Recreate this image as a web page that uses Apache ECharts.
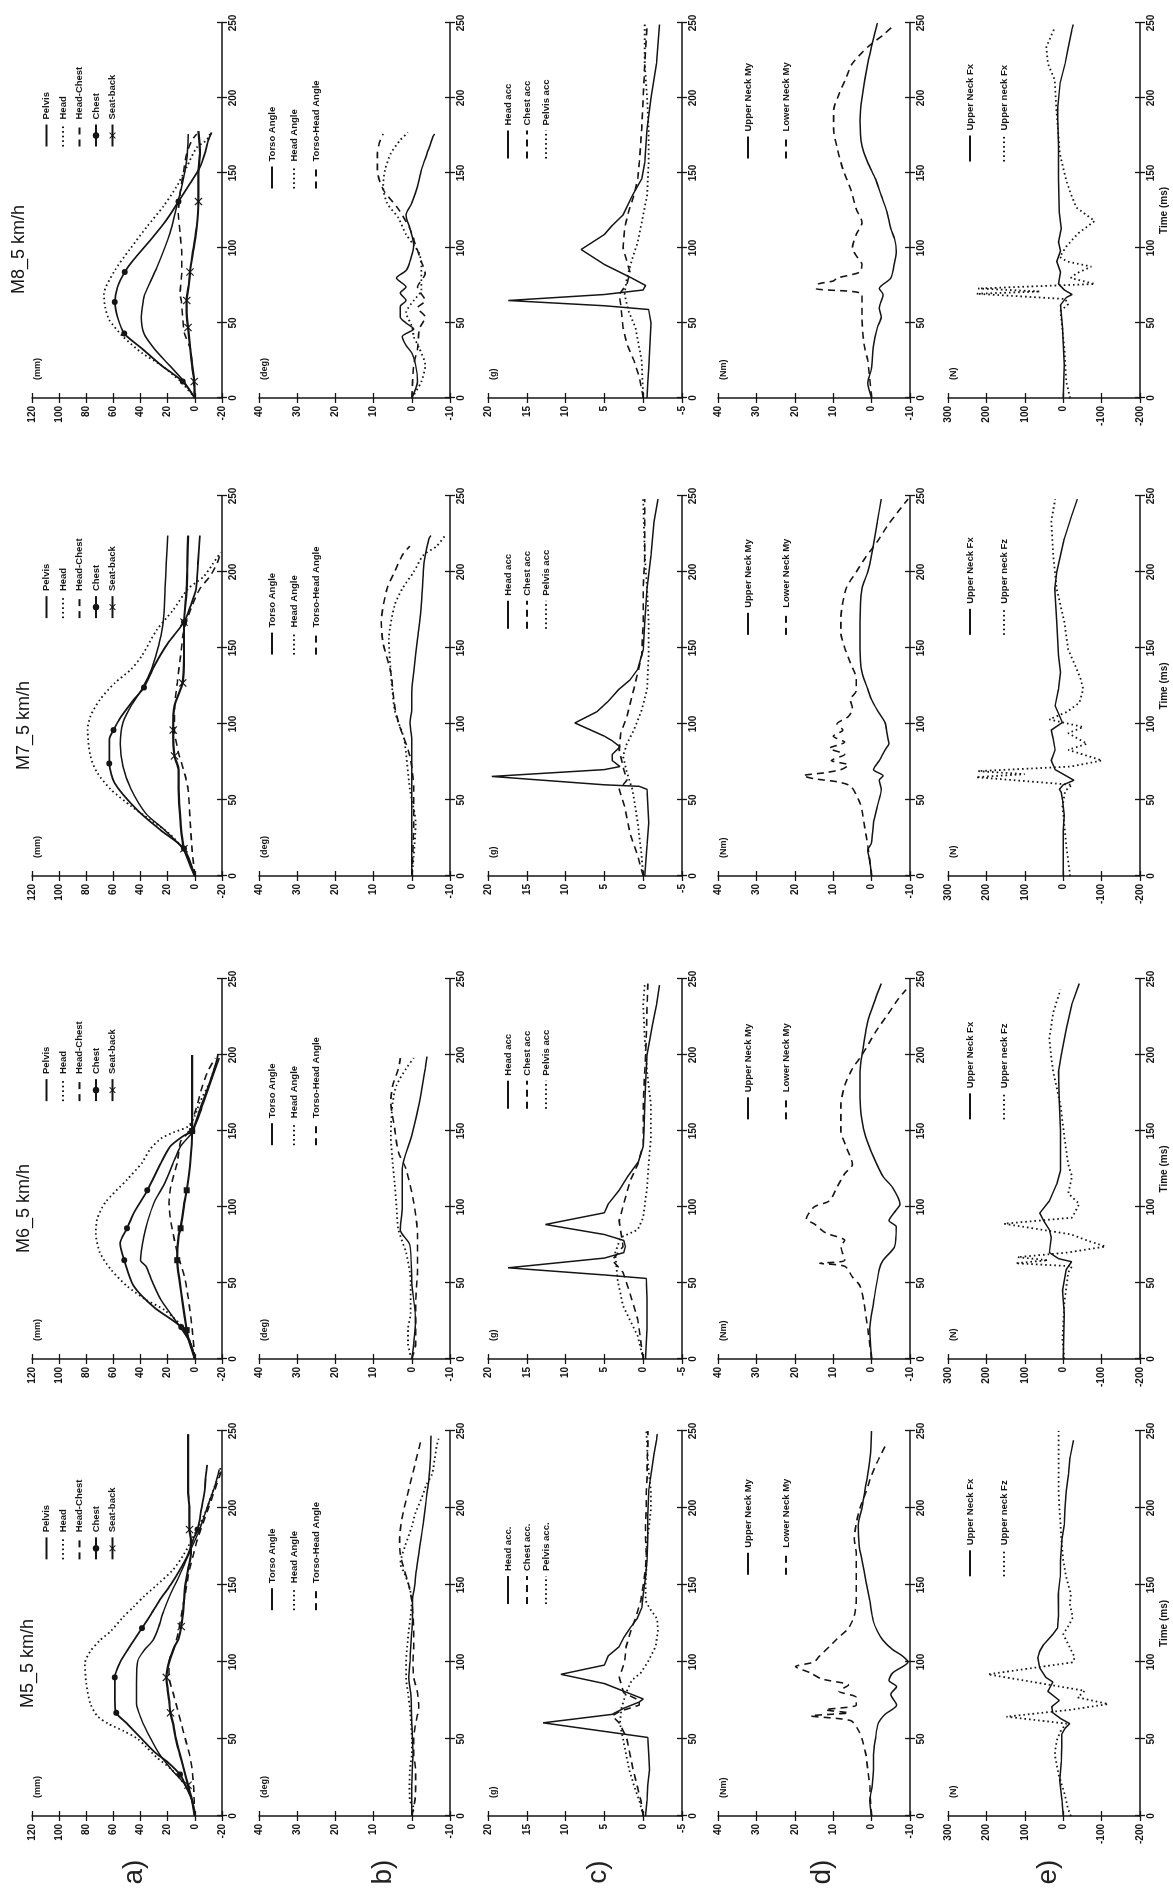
<!DOCTYPE html>
<html>
<head>
<meta charset="utf-8">
<title>Sled test responses M5-M8</title>
<script src="https://cdn.jsdelivr.net/npm/echarts/dist/echarts.min.js"></script>
<style>
  html, body { margin: 0; padding: 0; background: #fff; overflow: hidden; width: 1173px; height: 1894px; }
  /* the figure is landscape; the page shows it turned a quarter turn to the left */
  #rot { position: absolute; left: 0; top: 0; width: 1894px; height: 1173px;
         transform-origin: 0 0; transform: translate(0px, 1894px) rotate(-90deg); }
  #main { width: 1894px; height: 1173px; }
</style>
</head>
<body>
<div id="rot"><div id="main"></div></div>
<script>
// ---- axes ----
const blockTitles = ['M5_5 km/h', 'M6_5 km/h', 'M7_5 km/h', 'M8_5 km/h'];
const rowTags = ['a)', 'b)', 'c)', 'd)', 'e)'];
const valMin = [-20, -10, -5, -10, -200];
const valMax = [120, 40, 20, 40, 300];
const valStep = [20, 10, 5, 10, 100];
const valUnits = ['(mm)', '(deg)', '(g)', '(Nm)', '(N)'];

// ---- M5 ---- [time ms, value]
const m5_a_pelvis = [[0,0],[10,2],[20,7],[30,17],[40,26],[51,33],[62,39],[73,43],[86,43],[101,42],[108,37],[114,31],[122,27],[133,23],[144,18],[155,12],[165,7],[175,2],[185,-3],[195,-7],[205,-11],[215,-15],[225,-18]];
const m5_a_head = [[0,0],[10,2],[20,7],[30,17],[38,28],[45,36],[50,42],[55,52],[60,64],[65,72],[73,77],[86,80],[99,81],[107,77],[114,70],[120,62],[129,53],[136,45],[143,37],[150,28],[160,16],[170,8],[180,2],[190,-4],[200,-9],[210,-13],[220,-17],[226,-19]];
const m5_a_hc = [[0,0],[10,0.5],[20,1],[30,2],[40,4],[50,7],[60,10],[70,13],[80,16],[90,19],[100,19],[110,15],[120,12],[130,10],[140,8],[150,6],[160,4],[170,1],[180,-2],[190,-6],[200,-10],[210,-14],[220,-18],[225,-20]];
const m5_a_chest = [[0,0],[10,2],[20,7],[27,11],[35,20],[41,29],[50,39],[60,50],[67,58],[75,59],[90,59],[100,55],[110,48],[122,39],[130,33],[140,26],[150,18],[160,11],[170,5],[180,1],[186,-2],[200,-5],[210,-7],[220,-8],[228,-9]];
const m5_a_seat = [[0,0],[10,2],[20,5],[30,8],[40,11],[50,14],[60,16],[67,18],[75,19],[82,20],[90,21],[100,19],[110,15],[115,12],[123,10],[130,9],[140,8],[150,7],[160,5],[170,3],[180,3],[186,4],[200,4],[210,5],[220,5],[230,5],[240,5],[248,5]];
const m5_chestMarks = [27, 67, 90, 122, 186];
const m5_seatMarks = [20, 67, 90, 123, 186];
const m5_b_torso = [[0,0],[20,0],[40,-0.3],[60,0],[80,0.3],[90,0.8],[100,0.5],[110,0.3],[120,0],[130,-0.2],[140,-0.2],[150,-0.8],[160,-1.2],[170,-1.8],[180,-2.4],[190,-3],[200,-3.5],[210,-4],[220,-4.5],[230,-4.8],[247,-5]];
const m5_b_head = [[0,0],[5,-0.5],[10,0.5],[20,0.6],[30,0.5],[40,0],[50,0],[60,0.2],[70,0.5],[80,1],[90,1.5],[100,1.5],[110,1.2],[120,0.8],[130,0.3],[140,0],[150,0.8],[158,2],[164,3],[175,1.8],[188,0],[197,-1],[206,-2.5],[215,-3.8],[222,-5.3],[232,-6],[240,-6.5],[245,-7]];
const m5_b_th = [[0,0],[10,-0.8],[20,-1],[30,-1],[40,-0.5],[50,-0.5],[60,-1],[70,-1.8],[80,-1.5],[90,-0.5],[100,-0.3],[110,-0.5],[120,-0.5],[130,-0.3],[140,0],[150,0.8],[160,2],[170,3],[180,3.2],[190,2.8],[200,2],[210,1],[220,0],[230,-1],[240,-2],[245,-2.5]];
const m5_c_head = [[0,-0.3],[10,-0.5],[20,-0.6],[30,-0.8],[40,-0.7],[51,-0.6],[60.5,12.9],[66,4],[70,2.5],[74,0.5],[76,0],[80,2],[86,5],[92,10.6],[98,5],[104,4.5],[110,3.1],[116,2.5],[122,1.7],[128,0.8],[135,0.2],[144,0],[155,-0.3],[166,-0.5],[180,-0.6],[195,-0.6],[211,-0.7],[225,-1.1],[235,-1.4],[244,-1.7],[248,-1.8]];
const m5_c_chest = [[0,0],[10,0.3],[20,0.8],[30,1.3],[40,1.7],[50,2.1],[60,3],[65,4],[68,3],[72,0.5],[75,0.5],[80,2.5],[90,3.1],[100,2.4],[110,2.2],[120,1.6],[130,0.9],[140,0.3],[150,0],[160,-0.3],[170,-0.4],[180,-0.3],[190,-0.3],[200,-0.4],[210,-0.4],[220,-0.5],[230,-0.5],[240,-0.6],[250,-0.6]];
const m5_c_pelvis = [[0,0],[10,0.5],[20,1.2],[30,1.8],[40,2.2],[50,2.6],[60,3],[70,2.8],[80,2.2],[88,1.5],[93,0.3],[100,-0.6],[110,-1.6],[120,-1.9],[128,-1.8],[135,-0.8],[140,-0.3],[150,-0.3],[160,-0.4],[170,-0.4],[180,-0.5],[190,-0.8],[200,-1],[210,-1],[220,-0.8],[230,-0.6],[240,-0.5],[250,-0.4]];
const m5_d_upper = [[0,0],[10,0.5],[20,-0.2],[30,-0.5],[40,-0.5],[50,-1],[60,-1.7],[66,-3.5],[72,-6.5],[79,-5],[84,-6.5],[88,-4.5],[93,-5.5],[100,-9.5],[104,-8],[108,-5.5],[114,-3],[120,-1.5],[127,-0.4],[140,0.5],[153,1.5],[166,2.5],[175,3.2],[189,3.5],[200,2.5],[211,1.8],[222,1],[235,0.3],[250,0]];
const m5_d_lower = [[0,0],[10,0.3],[20,0.5],[30,1],[40,1.5],[50,2.5],[56,3.5],[62,5.5],[65,15.8],[67,6],[69,12],[72,4],[77,4],[81,8.5],[85,6],[89,13],[93,16],[97,19.8],[100,15],[104,13.5],[110,11],[115,9],[122,6],[130,4.5],[140,4],[150,4],[160,4],[170,4],[180,4.5],[190,4],[200,3],[210,1.5],[220,0.2],[230,-1.5],[240,-3.5]];
const m5_e_fx = [[0,0],[10,3],[23,9],[35,5],[45,4],[53,4],[57,-5],[60,-17],[63,5],[67,27],[71,30],[75,10],[81,40],[87,27],[90,45],[96,61],[103,66],[107,61],[111,52],[118,27],[122,15],[130,12],[144,13],[155,8],[166,7],[180,3],[189,-3],[200,-5],[211,-8],[222,-14],[233,-18],[244,-27]];
const m5_e_fz = [[0,-20],[5,-12],[14,-4],[27,12],[40,22],[49,17],[56,5],[60,-8],[64.5,148],[69,-20],[72.7,-117],[77,-38],[81.3,-56],[92,196],[99.8,-25],[103,-30],[109.6,-17],[118,0],[124,-15],[129,-25],[137.7,-17],[144,-20],[155,-8],[166,0],[180,5],[190,7],[200,10],[211,12],[230,12],[250,12]];

// ---- M6 ----
const m6_a_pelvis = [[0,0],[10,3],[20,10],[39,25],[50,31],[61,36],[65,40],[81,37.5],[90,35],[103,30],[116,22],[129,16],[140,10.5],[149,2],[160,-3],[169,-6.5],[187,-13.6],[198,-18]];
const m6_a_head = [[0,0],[10,3],[20,8],[32,22],[39,36],[48,50],[59,62],[70,70],[83,73],[92,72],[103,66],[118,50],[129,39],[138,33],[145,25],[149,16],[153,5],[160,0],[169,-3.7],[182,-11],[190,-14],[198,-18]];
const m6_a_hc = [[0,0],[20,2],[41,5],[54,7.7],[70,13],[90,17.6],[103,19],[114,17.6],[129,13],[143,10.5],[149,5],[165,-1],[178,-5],[189,-9.4],[198,-15]];
const m6_a_chest = [[0,0],[10,3],[21,10],[34,30],[48,45],[65,52],[76,55],[86,50],[96,45],[111,35],[129,25],[140,18],[147,8],[150,2],[165,-4],[182,-11],[196,-16],[200,-17]];
const m6_a_seat = [[0,0],[14,5],[19,6],[37,9],[50,11],[65,13],[81,12],[86,10.5],[103,7.7],[111,6],[129,3.4],[150,2],[169,2],[187,2],[200,2]];
const m6_chestMarks = [21, 65, 86, 111, 150];
const m6_seatMarks = [19, 65, 86, 111, 150];
const m6_b_torso = [[0,0],[25,-1],[50,0],[75,0.5],[85,3],[100,2.5],[125,2.5],[147,0],[169,-2],[191,-3.5],[199,-4]];
const m6_b_head = [[0,0],[10,1],[20,1],[30,0.3],[50,0.3],[57,0.5],[70,1.5],[85,3.5],[100,4],[116,4.5],[129,5],[147,5.5],[169,5],[180,4],[191,1.5],[198,-0.5]];
const m6_b_th = [[0,0],[10,-1],[20,-1],[36,-1],[59,-1.5],[81,-1.5],[103,-0.5],[125,1.5],[136,3.5],[152,4.5],[169,5.5],[180,5],[191,3.5],[198,3]];
const m6_c_head = [[0,-0.3],[10,-0.4],[20,-0.5],[40,-0.5],[53,-0.4],[55.3,5],[60,17.4],[66.4,5],[70,2.5],[74,2.3],[78,2.5],[81.9,5],[88.5,12.6],[96.2,5],[102,4.5],[111,3.1],[120,2],[130,0.6],[140,0],[150,-0.1],[167,-0.2],[180,-0.3],[200,-0.5],[220,-1.2],[233,-1.7],[246,-2.1]];
const m6_c_chest = [[0,0],[26,0.7],[43,1.7],[57,2.6],[65,4],[74,2.6],[91,3.1],[104,2.4],[117,1.7],[128,0.7],[141,0],[167,0],[189,-0.2],[211,-0.4],[233,-0.5],[247,-0.6]];
const m6_c_pelvis = [[0,0],[15,0.7],[35,2.6],[52,3.3],[70,3.6],[80,2.9],[85,0.7],[93,0],[113,-0.5],[128,-0.7],[146,-1],[167,-1],[189,-0.5],[211,-0.2],[233,0],[247,-0.2]];
const m6_d_upper = [[0,0],[20,0.5],[37,-0.5],[59,-2],[65,-3],[74,-6],[87,-6.4],[91,-4.5],[98,-6.4],[102,-7.4],[113,-5.4],[120,-3],[133,-0.5],[146,1.5],[157,2.5],[172,3],[189,3],[200,2.5],[222,1],[237,-1],[247,-2.5]];
const m6_d_lower = [[0,0],[20,1],[37,2],[48,3],[54,5],[61,7],[63,13.5],[65,7],[74,8],[78,7],[83,12],[89,15],[92,17],[100,15],[104,11],[113,9],[122,7],[128,5],[139,6.5],[150,8],[167,8],[180,7],[191,5],[200,2.5],[215,-1],[226,-4],[237,-7],[243,-9]];
const m6_e_fx = [[0,0],[30,-3],[45,2],[59,-8],[64,-22],[66,12],[70,36],[80,31],[85,36],[91,51],[96,61],[104,36],[115,17],[124,7],[150,7],[170,10],[189,12],[200,5],[217,-8],[233,-22],[247,-42]];
const m6_e_fz = [[0,-3],[13,2],[37,-3],[57,-13],[61,-23],[63,124],[65,40],[67,119],[70,-10],[74,-110],[78,-62],[82,-20],[89,154],[93,-23],[102,-42],[109,-13],[120,-23],[128,-13],[146,-3],[167,7],[189,26],[198,31],[211,36],[228,26],[243,7]];

// ---- M7 ----
const m7_a_pelvis = [[0,0],[17,8],[30,22],[41,36],[57,47],[72,53],[87,55],[101,53],[112,47],[123,39],[136,32],[149,27.5],[158,25],[171,23],[189,22],[206,21],[224,20]];
const m7_a_head = [[0,0],[17,8],[28,19],[37,33],[46,47],[57,62],[68,72],[79,77],[96,79],[105,77],[116,70],[127,59],[136,47],[145,39],[162,28],[175,16],[189,5],[197,-6.5],[205,-13],[213,-19]];
const m7_a_hc = [[0,0],[17,2],[35,3.4],[57,5],[68,7.7],[81,12],[96,15],[109,15],[127,13],[145,10.5],[162,8],[178,2],[189,-3.7],[197,-11],[206,-16.5],[213,-19]];
const m7_a_chest = [[0,0],[18,8],[30,25],[43,42],[61,59],[74,63],[90,63],[96,60],[104,55],[116,45],[124,37.5],[138,30],[153,20],[167,8],[178,3],[189,-1],[206,-2.3],[224,-3.7]];
const m7_a_seat = [[0,0],[18,8],[35,10.5],[57,12],[70,12],[79,15],[96,16],[112,15],[127,9],[145,8],[167,8],[189,6],[206,5.5],[224,5]];
const m7_chestMarks = [18, 74, 96, 124, 167];
const m7_seatMarks = [18, 79, 96, 127, 167];
const m7_b_torso = [[0,0],[50,0],[90,0],[101,0.5],[109,0],[120,0],[134,-0.5],[156,-1.5],[178,-2.5],[200,-3],[211,-3.5],[222,-4.5],[224,-5]];
const m7_b_head = [[0,0],[13,-0.5],[35,-1],[57,0.5],[90,2],[101,3.5],[109,4.5],[134,5.5],[156,6],[178,4.5],[189,2.5],[200,-0.5],[211,-3],[217,-6.5],[225,-9]];
const m7_b_th = [[0,0],[35,-0.5],[57,-0.5],[79,0.5],[101,3.5],[112,4.5],[134,5.5],[153,7.5],[167,8],[189,6.5],[200,4.5],[211,2.5],[217,0.5]];
const m7_c_head = [[0,-0.2],[20,-0.5],[35,-0.7],[57,-0.5],[59,0.5],[60,5],[65.5,19.5],[70,5],[72,3],[76,4],[80,4],[85,3],[89,4],[92,5],[100.7,8.8],[108,6],[115,4.5],[123,3.1],[129,1.7],[136,0.7],[149,0],[167,-0.2],[189,-0.5],[211,-1],[233,-1.4],[248,-1.9]];
const m7_c_chest = [[0,0],[13,0.7],[28,1.7],[46,2.4],[57,3.1],[63,2.1],[70,2.5],[83,3.1],[94,2.9],[105,2.1],[123,1.2],[145,0.2],[167,0],[189,0],[211,-0.2],[233,-0.2],[248,-0.2]];
const m7_c_pelvis = [[0,0],[13,0.2],[35,0.7],[57,1.4],[68,2.1],[79,2.6],[87,2.1],[96,1.2],[109,0.2],[123,-0.5],[145,-0.7],[167,-0.7],[189,-0.5],[211,-0.2],[248,0]];
const m7_d_upper = [[0,0],[10,0.5],[17,1],[22,0],[35,-0.5],[46,-1.5],[57,-2.5],[63,-2],[66,-3],[70,-0.5],[76,-2],[83,-3.5],[87,-4.5],[94,-4],[101,-3.5],[109,-1.5],[116,0],[123,1],[134,2.5],[149,3],[167,3],[189,2.5],[200,1],[211,0],[233,-1.5],[248,-2.5]];
const m7_d_lower = [[0,0],[20,1],[35,2],[43,2.5],[48,3],[59,5.4],[62,9],[64,15],[66,17.8],[68,12],[70,8],[73,6],[76,10.5],[80,7],[84,11],[88,7],[92,10],[96,7.5],[100,9],[105,6],[110,5],[116,5.5],[122,4],[130,4],[140,5.5],[150,7],[160,8],[170,8],[180,7.5],[190,6.5],[200,4],[210,1.5],[220,-1.5],[230,-4],[240,-7],[248,-9.5]];
const m7_e_fx = [[0,0],[30,0],[40,-3],[50,2],[55,5],[57,10],[60,0],[63,-28],[70,21],[76,31],[83,21],[90,26],[96,31],[101,2],[112,21],[123,12],[134,7],[145,12],[167,17],[189,22],[200,17],[222,-3],[237,-22],[248,-37]];
const m7_e_fz = [[0,-18],[20,-8],[46,2],[56,-5],[60,-23],[65,227],[67,100],[69,222],[72,-20],[76,-101],[83,-13],[87,-62],[94,-13],[98,-52],[103,36],[108,-10],[114,-42],[123,-52],[130,-45],[138,-32],[149,-13],[167,-3],[178,7],[189,17],[211,26],[233,31],[248,21]];

// ---- M8 ----
const m8_a_pelvis = [[0,0],[11,8],[22,19],[33,30],[43,37.5],[54,39.5],[65,38],[69,37],[87,28],[110,18.3],[128,13.4],[141,9.7],[159,6],[176,4.8]];
const m8_a_head = [[0,0],[11,10.5],[22,25],[30,39],[41,53],[52,63],[60,66],[69,67],[85,59],[99,48],[114,35.5],[128,23],[141,13.4],[154,6],[167,-1.4],[172,-8.8],[176,-11]];
const m8_a_hc = [[0,0],[11,1],[22,2],[33,3.4],[43,7.7],[54,9],[65,10],[69,10.9],[83,9.7],[96,9.7],[110,10.9],[123,12.2],[136,10.9],[150,8.5],[163,6],[172,2],[176,-1.4]];
const m8_a_chest = [[0,0],[11,9],[22,25],[33,39],[43,52],[54,57],[64,59],[74,57],[84,51.6],[92,45.3],[105,33],[119,20.7],[131,12],[143,3.6],[154,-3.8],[165,-8],[172,-10],[177,-12.4]];
const m8_a_seat = [[0,0],[11,0.5],[22,2],[33,3.4],[47,5],[57,6],[65,6],[75,4.5],[84,3.6],[99,1.1],[114,-1.4],[131,-2.6],[150,-2.6],[163,-3.8],[178,-2.6]];
const m8_chestMarks = [11, 43, 64, 84, 131];
const m8_seatMarks = [11, 47, 65, 84, 131];
const m8_b_torso = [[0,0],[11,-1.5],[22,-1],[30,0],[35,1.5],[41,2.5],[46,-0.5],[50,1.5],[54,3],[61,3],[65,1.5],[70,3],[74,1.5],[80,4],[85,1.5],[91,0.5],[102,-0.5],[113,0.5],[122,1.5],[130,0],[141,-1.5],[152,-2.5],[163,-4],[174,-5.5],[176,-6]];
const m8_b_head = [[0,0],[11,-2.5],[22,-3.5],[33,-2],[41,-0.5],[48,0],[57,1.5],[65,-0.5],[72,-2.5],[87,-2.5],[96,-2],[102,-0.5],[109,1.5],[120,3.5],[130,6.5],[141,7.5],[152,7],[163,5.5],[172,3],[177,1]];
const m8_b_th = [[0,0],[22,-0.5],[33,-1.5],[46,-2],[54,-3.5],[60,-1.5],[65,-3.5],[74,-1.5],[83,-3.5],[91,-2.5],[102,-1],[113,0.5],[126,3.5],[139,7.5],[152,9],[163,9],[170,8.5],[176,7.5]];
const m8_c_head = [[0,-0.5],[10,-0.6],[20,-0.7],[30,-0.8],[40,-0.9],[50,-1],[59,-0.7],[61.5,5],[65,17.4],[69,5],[72,0],[75,-0.3],[80,1.5],[89,5],[99,8],[109,5],[115,4],[122,2.6],[135,1.4],[146,0.2],[157,-0.2],[179,-0.5],[200,-1],[223,-1.7],[249,-2.1]];
const m8_c_chest = [[0,0],[14,0.5],[25,1.2],[36,2.1],[47,2.6],[62,2.9],[69,3.1],[76,2.1],[84,1.7],[91,2.1],[100,2.6],[113,2.4],[124,1.9],[135,1.2],[146,0.7],[157,0.5],[179,0.2],[200,0],[223,-0.2],[249,-0.5]];
const m8_c_pelvis = [[0,0],[25,0.2],[47,1],[58,1.9],[69,2.4],[80,2.1],[93,1.4],[104,0.7],[122,0],[135,-0.5],[157,-0.7],[179,-0.7],[200,-0.5],[223,-0.2],[249,-0.2]];
const m8_d_upper = [[0,0],[10,1],[20,0],[35,-0.5],[47,-1.5],[54,-2.5],[60,-2],[69,-3],[73,-2],[80,-5],[91,-6],[98,-6.4],[106,-6],[113,-5],[124,-4],[135,-2.5],[146,-1],[157,1],[168,2.5],[185,3],[200,2.5],[223,1],[245,-1],[250,-1.5]];
const m8_d_lower = [[0,0],[25,1],[36,2],[54,2.5],[69,2.5],[71,5],[73,14.5],[76,13.9],[78,10],[80,8.9],[84,3],[89,2.5],[93,3.5],[100,5],[109,4],[117,2.5],[126,4],[139,5.4],[152,7.4],[166,8.9],[179,9.9],[192,9.9],[200,8.9],[212,6.9],[223,5],[234,1],[242,-3],[249,-6]];
const m8_e_fx = [[0,0],[22,-3],[47,2],[62,7],[67,-8],[69,-23],[72,-3],[76,12],[84,7],[91,17],[98,7],[104,12],[113,5],[124,10],[146,12],[168,12],[192,15],[210,8],[223,-5],[232,-12],[245,-22],[249,-26]];
const m8_e_fz = [[0,-18],[11,-8],[33,-3],[58,7],[62.5,-13],[66,-5],[69.5,226],[71,60],[73,222],[76,-82],[80,-20],[83,-34],[87.6,-73],[91,-10],[94,9],[101,-8],[109.8,-39],[118,-82],[127,-34],[136,-20],[145,-8],[163,9],[174,12],[192,17.7],[212,22],[223,40],[234,44],[247,22]];

// ---- which curves go in which panel: panels[block][row] ----
function rowA(p, h, hc, c, s, cm, sm, seatStyle) {
  return [
    { name: 'Pelvis', data: p, st: 'solid' },
    { name: 'Head', data: h, st: 'dot' },
    { name: 'Head-Chest', data: hc, st: 'dash' },
    { name: 'Chest', data: c, st: 'chest', marks: cm },
    { name: 'Seat-back', data: s, st: seatStyle, marks: sm }
  ];
}
function rowB(t, h, th) {
  return [
    { name: 'Torso Angle', data: t, st: 'solid' },
    { name: 'Head Angle', data: h, st: 'dot' },
    { name: 'Torso-Head Angle', data: th, st: 'dash' }
  ];
}
function rowC(h, c, p, dotSuffix) {
  return [
    { name: 'Head acc' + dotSuffix, data: h, st: 'solid' },
    { name: 'Chest acc' + dotSuffix, data: c, st: 'dash' },
    { name: 'Pelvis acc' + dotSuffix, data: p, st: 'dot' }
  ];
}
function rowD(u, l) {
  return [
    { name: 'Upper Neck My', data: u, st: 'solid' },
    { name: 'Lower Neck My', data: l, st: 'dash' }
  ];
}
function rowE(fx, fz, fzName) {
  return [
    { name: 'Upper Neck Fx', data: fx, st: 'solid' },
    { name: fzName, data: fz, st: 'dot' }
  ];
}
const panels = [
  [rowA(m5_a_pelvis, m5_a_head, m5_a_hc, m5_a_chest, m5_a_seat, m5_chestMarks, m5_seatMarks, 'seat'),
   rowB(m5_b_torso, m5_b_head, m5_b_th), rowC(m5_c_head, m5_c_chest, m5_c_pelvis, '.'),
   rowD(m5_d_upper, m5_d_lower), rowE(m5_e_fx, m5_e_fz, 'Upper neck Fz')],
  [rowA(m6_a_pelvis, m6_a_head, m6_a_hc, m6_a_chest, m6_a_seat, m6_chestMarks, m6_seatMarks, 'seatSq'),
   rowB(m6_b_torso, m6_b_head, m6_b_th), rowC(m6_c_head, m6_c_chest, m6_c_pelvis, ''),
   rowD(m6_d_upper, m6_d_lower), rowE(m6_e_fx, m6_e_fz, 'Upper neck Fz')],
  [rowA(m7_a_pelvis, m7_a_head, m7_a_hc, m7_a_chest, m7_a_seat, m7_chestMarks, m7_seatMarks, 'seat'),
   rowB(m7_b_torso, m7_b_head, m7_b_th), rowC(m7_c_head, m7_c_chest, m7_c_pelvis, ''),
   rowD(m7_d_upper, m7_d_lower), rowE(m7_e_fx, m7_e_fz, 'Upper neck Fz')],
  [rowA(m8_a_pelvis, m8_a_head, m8_a_hc, m8_a_chest, m8_a_seat, m8_chestMarks, m8_seatMarks, 'seat'),
   rowB(m8_b_torso, m8_b_head, m8_b_th), rowC(m8_c_head, m8_c_chest, m8_c_pelvis, ''),
   rowD(m8_d_upper, m8_d_lower), rowE(m8_e_fx, m8_e_fz, 'Upper neck Fx')]
];

// ---- layout of the landscape figure (px) ----
const blockLeft = [78, 535, 1018, 1496];
const blockWidth = [385, 380, 380, 375];
const rowTop = [32, 259, 488, 718, 948];
const rowHeight = [190, 191, 194, 192, 192];
const titleY = [28, 24, 24, 19];
const tagY = [134, 383, 598, 822, 1048];
// legend: time where the key sample starts, first row centre, row pitch, sample length
const legT = [[166, 133, 137, 156, 155], [169, 140, 164, 157, 157], [169, 145, 162, 158, 158], [167, 139, 159, 159, 157]];
const legFirst = [14.5, 13, 20, 30, 22];
const legPitch = [16.5, 22, 19, 38, 34];
const legSample = [22, 22, 28, 22, 26];

const INK = '#151515';
const NARROW = "'Liberation Sans Narrow', 'Liberation Sans', Arial, sans-serif";
const SANS = "'Liberation Sans', Arial, sans-serif";
const X_MARK = 'path://M1,0 L5,4 L9,0 L10,1 L6,5 L10,9 L9,10 L5,6 L1,10 L0,9 L4,5 L0,1 Z';

const styles = {
  solid:  { line: { type: 'solid', width: 1.5 }, symbol: 'none' },
  dot:    { line: { type: [1.6, 3], width: 1.8 }, symbol: 'none' },
  dash:   { line: { type: [7, 5], width: 1.6 }, symbol: 'none' },
  chest:  { line: { type: 'solid', width: 1.8 }, symbol: 'circle', size: 6 },
  seat:   { line: { type: 'solid', width: 2.2 }, symbol: X_MARK, size: 8 },
  seatSq: { line: { type: 'solid', width: 2.2 }, symbol: 'rect', size: 6 }
};

function withMarks(pts, marks) {
  const keep = new Set(marks.map(m => {
    let best = 0;
    pts.forEach((p, i) => { if (Math.abs(p[0] - m) < Math.abs(pts[best][0] - m)) best = i; });
    return best;
  }));
  return pts.map((p, i) => keep.has(i) ? { value: p } : { value: p, symbol: 'none' });
}

const grids = [], xAxes = [], yAxes = [], series = [], legends = [], graphics = [];
const tickLabel = { fontSize: 10, fontFamily: NARROW, fontWeight: 'bold', color: INK };

for (let b = 0; b < 4; b++) {
  for (let r = 0; r < 5; r++) {
    const gi = grids.length;
    grids.push({ left: blockLeft[b], top: rowTop[r], width: blockWidth[b], height: rowHeight[r] });
    const xa = xAxes.length, ya = yAxes.length;
    const xBase = { type: 'value', gridIndex: gi, min: 0, max: 250, interval: 50, position: 'bottom', splitLine: { show: false } };
    xAxes.push(Object.assign({}, xBase, {
      axisLine: { show: true, onZero: false, lineStyle: { color: INK, width: 1.5 } },
      axisTick: { show: true, length: 5, lineStyle: { color: INK, width: 1.3 } },
      axisLabel: Object.assign({ margin: 6 }, tickLabel),
      name: r === 4 ? 'Time (ms)' : '', nameLocation: 'middle', nameGap: 19,
      nameTextStyle: { fontSize: 10, fontFamily: NARROW, fontWeight: 'bold', color: INK }
    }));
    xAxes.push(Object.assign({}, xBase, {
      axisLine: { show: false, onZero: false }, axisLabel: { show: false },
      axisTick: { show: true, inside: true, length: 5, lineStyle: { color: INK, width: 1.3 } }
    }));
    const yBase = { type: 'value', gridIndex: gi, min: valMin[r], max: valMax[r], interval: valStep[r], position: 'left', splitLine: { show: false } };
    yAxes.push(Object.assign({}, yBase, {
      axisLine: { show: true, onZero: false, lineStyle: { color: INK, width: 1.5 } },
      axisTick: { show: true, length: 5, lineStyle: { color: INK, width: 1.3 } },
      axisLabel: Object.assign({ margin: 8 }, tickLabel)
    }));
    yAxes.push(Object.assign({}, yBase, {
      axisLine: { show: false, onZero: false }, axisLabel: { show: false },
      axisTick: { show: true, inside: true, length: 5, lineStyle: { color: INK, width: 1.3 } }
    }));

    const list = panels[b][r];
    list.forEach(s => {
      const st = styles[s.st];
      const marked = st.symbol !== 'none';
      series.push({
        type: 'line', name: s.name, xAxisIndex: xa, yAxisIndex: ya,
        data: marked ? withMarks(s.data, s.marks) : s.data,
        symbol: st.symbol, symbolSize: st.size || 4, showSymbol: marked,
        smooth: (r === 0 || r === 1 || r === 3) ? 0.25 : false,
        lineStyle: Object.assign({ color: INK }, st.line),
        itemStyle: { color: INK, borderWidth: 0 },
        emphasis: { disabled: true }, silent: true, animation: false
      });
    });

    // key: plain lines get no marker in their sample, marked curves keep theirs
    legends.push({
      orient: 'vertical', selectedMode: false, padding: 0,
      left: blockLeft[b] + legT[b][r] / 250 * blockWidth[b],
      top: rowTop[r] + legFirst[r] - 5.5,
      itemWidth: legSample[r], itemHeight: 8, itemGap: legPitch[r] - 11,
      textStyle: { fontSize: 9.5, lineHeight: 11, fontFamily: NARROW, fontWeight: 'bold', color: INK },
      data: list.map(s => styles[s.st].symbol === 'none'
        ? { name: s.name, itemStyle: { opacity: 0, borderWidth: 0 } }
        : { name: s.name })
    });

    graphics.push({
      type: 'text', x: blockLeft[b] + 18, y: rowTop[r] + 5.5, silent: true,
      style: { text: valUnits[r], fill: INK, font: 'bold 9px ' + NARROW, align: 'left', verticalAlign: 'middle' }
    });
  }
  graphics.push({
    type: 'text', x: blockLeft[b] + 99 / 250 * blockWidth[b], y: titleY[b], silent: true,
    style: { text: blockTitles[b], fill: INK, font: '18px ' + SANS, align: 'center', verticalAlign: 'middle' }
  });
}
rowTags.forEach((t, r) => {
  graphics.push({
    type: 'text', x: 22, y: tagY[r], silent: true,
    style: { text: t, fill: '#222', font: '28px ' + SANS, align: 'center', verticalAlign: 'middle' }
  });
});

const chart = echarts.init(document.getElementById('main'));
chart.setOption({
  backgroundColor: '#fff',
  animation: false,
  grid: grids, xAxis: xAxes, yAxis: yAxes,
  legend: legends, series: series, graphic: graphics
});
</script>
</body>
</html>
